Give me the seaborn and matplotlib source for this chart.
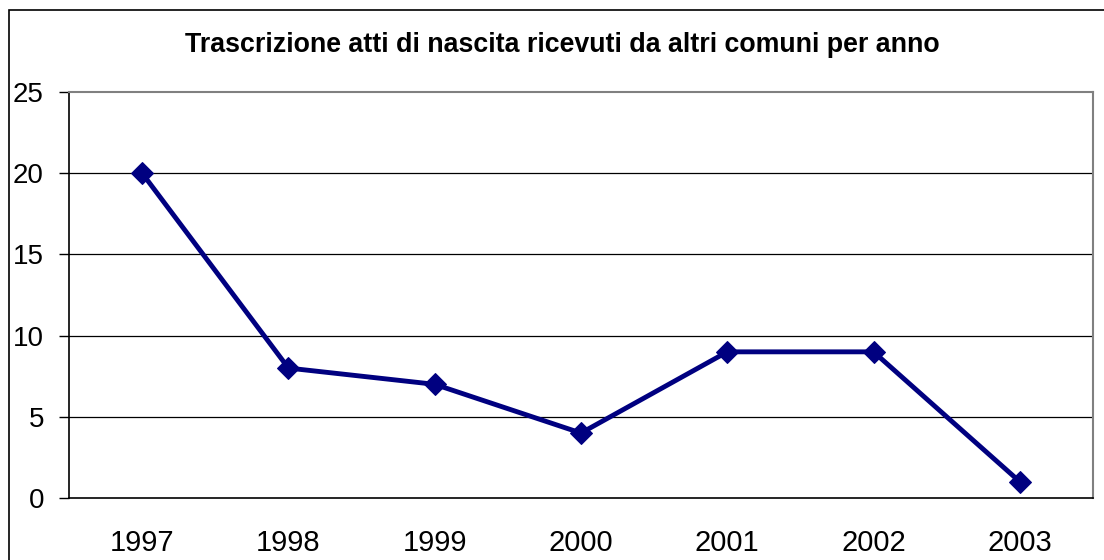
import matplotlib
matplotlib.use("Agg")
import matplotlib.pyplot as plt
import seaborn as sns
import pandas as pd
import numpy as np
from matplotlib.patches import Rectangle

years = ["1997", "1998", "1999", "2000", "2001", "2002", "2003"]
values = [20, 8, 7, 4, 9, 9, 1]
y_ticks = [0, 5, 10, 15, 20, 25]
title = "Trascrizione atti di nascita ricevuti da altri comuni per anno"

sns.set_style("white")
plt.rcParams['font.family'] = ['Liberation Sans', 'DejaVu Sans']
plt.rcParams['text.color'] = 'black'
plt.rcParams['xtick.color'] = 'black'
plt.rcParams['ytick.color'] = 'black'

W, H = 1104, 560
fig = plt.figure(figsize=(W / 100, H / 100), dpi=100)
ax = fig.add_axes([69 / W, 1 - 498 / H, (1093 - 69) / W, (498 - 92) / H])

df = pd.DataFrame({"year": years, "value": values})
sns.lineplot(data=df, x="year", y="value", ax=ax, color="#000080", linewidth=3.5,
             marker="D", markersize=11, markeredgecolor="#000080", markerfacecolor="#000080",
             sort=False)

ax.set_xlim(-0.5, len(years) - 0.5)
ax.set_ylim(0, 25)
ax.set_yticks(y_ticks)
ax.set_yticklabels([str(t) for t in y_ticks], fontsize=20)
ax.set_xticks(range(len(years)))
ax.set_xticklabels(years, fontsize=21)
ax.set_xticks(np.arange(-0.5, len(years)), minor=True)
ax.tick_params(axis="x", which="major", length=0, pad=22, colors="black")
ax.tick_params(axis="x", which="minor", length=7, width=1, color="black", direction="out")
ax.tick_params(axis="y", which="major", length=7, width=1, color="black", direction="out", pad=11,
               left=True, labelcolor="black")
ax.set_xlabel("")
ax.set_ylabel("")

for t in y_ticks[1:-1]:
    ax.axhline(t, color="black", linewidth=0.9, zorder=0)

for s in ["left", "bottom"]:
    ax.spines[s].set_color("black")
    ax.spines[s].set_linewidth(1.2)
for s in ["top", "right"]:
    ax.spines[s].set_visible(True)
    ax.spines[s].set_color("#808080")
    ax.spines[s].set_linewidth(1.5)

fig.text(562 / W, 1 - 45 / H, title, ha="center", va="center",
         fontsize=19.3, fontweight="bold", color="black")

fig.patches.append(Rectangle((9 / W, -0.1), 1.2, 1 - 10 / H + 0.1, transform=fig.transFigure,
                             fill=False, edgecolor="black", linewidth=1.2))

fig.savefig("out.png", dpi=100)
